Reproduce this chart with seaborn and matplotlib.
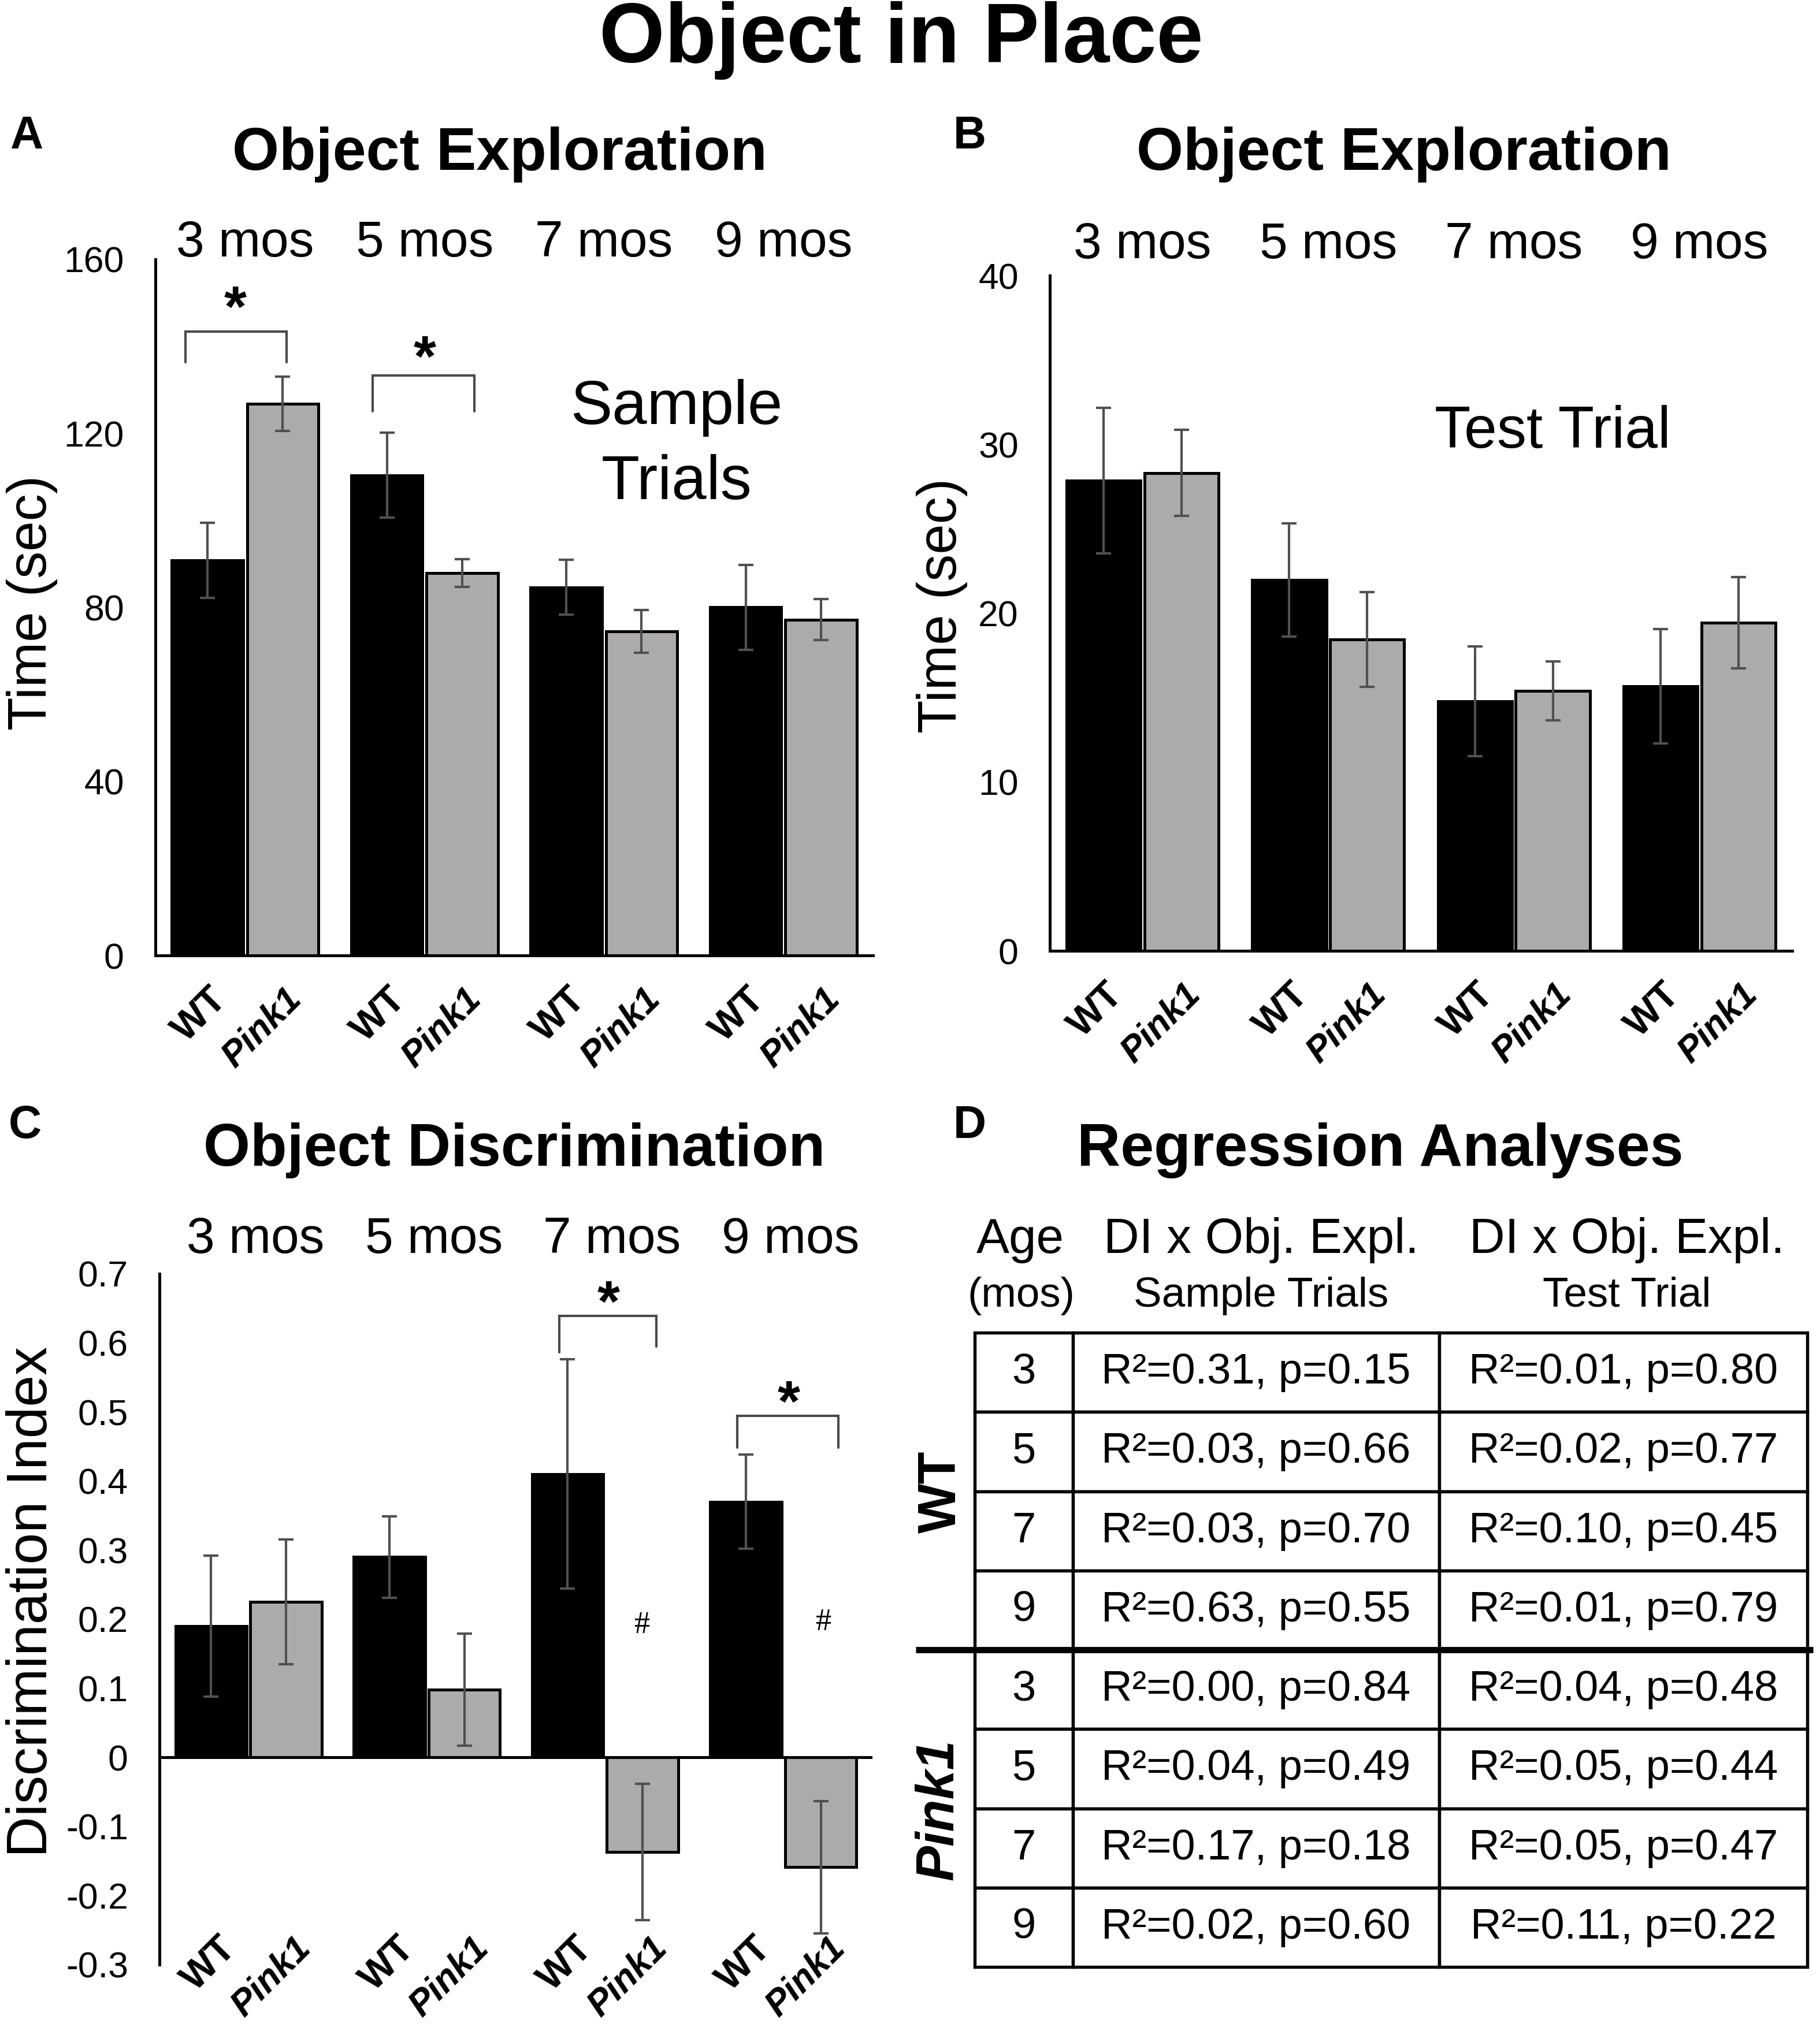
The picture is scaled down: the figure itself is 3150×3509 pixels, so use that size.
import numpy as np
import pandas as pd
import matplotlib
matplotlib.use('Agg')
import matplotlib.pyplot as plt
import matplotlib.transforms as mtransforms
import seaborn as sns

# ---------------- data ----------------
ages = ['3 mos', '5 mos', '7 mos', '9 mos']
genotypes = ['WT', 'Pink1']

# Panel A: sample trials object exploration (sec)
a_wt = [90.8, 110.4, 84.6, 80.0]
a_wt_err = [8.6, 9.8, 6.3, 9.7]
a_pk = [126.8, 87.9, 74.5, 77.2]
a_pk_err = [6.3, 3.2, 4.9, 4.7]
a_yticks = [0, 40, 80, 120, 160]

# Panel B: test trial object exploration (sec)
b_wt = [27.85, 21.96, 14.78, 15.67]
b_wt_err = [4.3, 3.35, 3.24, 3.4]
b_pk = [28.3, 18.44, 15.4, 19.44]
b_pk_err = [2.55, 2.8, 1.74, 2.7]
b_yticks = [0, 10, 20, 30, 40]

# Panel C: discrimination index
c_wt = [0.19, 0.29, 0.41, 0.37]
c_wt_err = [0.102, 0.059, 0.166, 0.068]
c_pk = [0.225, 0.098, -0.137, -0.159]
c_pk_err = [0.09, 0.081, 0.099, 0.096]
c_yticks = [-0.3, -0.2, -0.1, 0, 0.1, 0.2, 0.3, 0.4, 0.5, 0.6, 0.7]
c_yticklabels = ['-0.3', '-0.2', '-0.1', '0', '0.1', '0.2', '0.3', '0.4', '0.5', '0.6', '0.7']

# Panel D: regression table
tbl_ages = ['3', '5', '7', '9']
wt_r2_sample = [0.31, 0.03, 0.03, 0.63]
wt_p_sample = [0.15, 0.66, 0.70, 0.55]
wt_r2_test = [0.01, 0.02, 0.10, 0.01]
wt_p_test = [0.80, 0.77, 0.45, 0.79]
pk_r2_sample = [0.00, 0.04, 0.17, 0.02]
pk_p_sample = [0.84, 0.49, 0.18, 0.60]
pk_r2_test = [0.04, 0.05, 0.05, 0.11]
pk_p_test = [0.48, 0.44, 0.47, 0.22]

# ---------------- style ----------------
sns.set_theme(style='white')
plt.rcParams['font.family'] = ['Liberation Sans', 'DejaVu Sans']
plt.rcParams['axes.linewidth'] = 1.2

GREY = '#aeaaa9'
ERRC = '#505050'
BRC = '#4a4a4a'

W, H = 3150, 3509
fig = plt.figure(figsize=(W / 300, H / 300), dpi=300)
fig.patch.set_facecolor('white')


def fx(x):
    return x / W


def fy(y):
    return 1 - y / H


def bar_panel(ax, wt, wt_err, pk, pk_err, xpad, shift_px):
    df = pd.DataFrame({
        'age': ages + ages,
        'genotype': ['WT'] * 4 + ['Pink1'] * 4,
        'value': wt + pk,
    })
    sns.barplot(data=df, x='age', y='value', hue='genotype', order=ages,
                hue_order=genotypes, palette={'WT': '#000000', 'Pink1': GREY},
                width=0.84, gap=0.05, edgecolor='black', linewidth=1.2,
                errorbar=None, legend=False, ax=ax, zorder=2)
    bars = sorted(ax.patches, key=lambda b: b.get_x())
    xs = [b.get_x() + b.get_width() / 2 for b in bars]
    hs = [b.get_height() for b in bars]
    errs = []
    for i in range(4):
        errs += [wt_err[i], pk_err[i]]
    ax.errorbar(xs, hs, yerr=errs, fmt='none', ecolor=ERRC, elinewidth=1.0,
                capsize=3.2, capthick=1.0, zorder=5)
    ax.set_xticks(xs, ['WT', 'Pink1'] * 4)
    ax.set_xlabel('')
    ax.set_xlim(-0.5, 3.5)
    ax.tick_params(axis='x', length=0, pad=xpad)
    ax.tick_params(axis='y', length=0, pad=13, labelsize=15, colors='black')
    offset = mtransforms.ScaledTranslation(shift_px / 300, 0, fig.dpi_scale_trans)
    for lab in ax.get_xticklabels():
        lab.set_rotation(45)
        lab.set_ha('right')
        lab.set_va('center')
        lab.set_rotation_mode('anchor')
        lab.set_fontweight('bold')
        lab.set_color('black')
        if lab.get_text() == 'Pink1':
            lab.set_fontstyle('italic')
            lab.set_fontsize(15)
        else:
            lab.set_fontsize(16)
        lab.set_transform(lab.get_transform() + offset)
    sns.despine(ax=ax)
    for s in ['left', 'bottom']:
        ax.spines[s].set_color('black')
        ax.spines[s].set_linewidth(1.2)


def bracket(ax, x1, x2, ytop, yb1, yb2):
    ax.plot([x1, x1, x2, x2], [yb1, ytop, ytop, yb2], color=BRC, lw=1.0,
            solid_joinstyle='miter', zorder=6)


def star(ax, x, y):
    ax.text(x, y, '*', ha='center', va='baseline', fontsize=24,
            fontweight='bold', color='black')


def age_labels(ax, yfrac, dx=0.0):
    tr = ax.get_xaxis_transform()
    for i, a in enumerate(ages):
        ax.text(i + dx, yfrac, a, transform=tr, ha='center', va='baseline',
                fontsize=21, color='black', clip_on=False)


def set_ylab(ax, text, xf, yf, size):
    ax.set_ylabel(text, fontsize=size, color='black')
    ax.yaxis.set_label_coords(xf, yf)
    ax.yaxis.label.set_va('center')


# ---------------- Panel A ----------------
axA = fig.add_axes([fx(269), fy(1654), 1242 / W, 1205 / H])
bar_panel(axA, a_wt, a_wt_err, a_pk, a_pk_err, xpad=16, shift_px=24)
axA.set_ylim(0, 160)
axA.set_yticks(a_yticks, [str(t) for t in a_yticks])
set_ylab(axA, 'Time (sec)', -0.172, 0.507, 22.6)
age_labels(axA, 1.004)
axA.text(2.405, 122.2, 'Sample', ha='center', va='baseline', fontsize=26, color='black')
axA.text(2.405, 104.9, 'Trials', ha='center', va='baseline', fontsize=26, color='black')
bracket(axA, -0.334, 0.232, 143.4, 136.4, 136.4)
star(axA, -0.055, 144.6)
bracket(axA, 0.71, 1.277, 133.3, 125.1, 125.1)
star(axA, 1.0, 133.2)

# ---------------- Panel B ----------------
axB = fig.add_axes([fx(1817), fy(1646), 1285 / W, 1169 / H])
bar_panel(axB, b_wt, b_wt_err, b_pk, b_pk_err, xpad=16, shift_px=24)
axB.set_ylim(0, 40)
axB.set_yticks(b_yticks, [str(t) for t in b_yticks])
set_ylab(axB, 'Time (sec)', -0.1455, 0.511, 22.6)
age_labels(axB, 1.0257)
axB.text(2.21, 29.8, 'Test Trial', ha='center', va='baseline', fontsize=24.5, color='black')

# ---------------- Panel C ----------------
axC = fig.add_axes([fx(276), fy(3401), 1234 / W, 1196 / H])
bar_panel(axC, c_wt, c_wt_err, c_pk, c_pk_err, xpad=-9, shift_px=34)
axC.set_ylim(-0.3, 0.7)
axC.set_yticks(c_yticks, c_yticklabels)
axC.spines['bottom'].set_visible(False)
axC.axhline(0, color='black', lw=1.2, zorder=3)
set_ylab(axC, 'Discrimination Index', -0.179, 0.525, 23.6)
age_labels(axC, 1.030, dx=0.04)
bracket(axC, 1.744, 2.288, 0.639, 0.586, 0.595)
star(axC, 2.02, 0.632)
bracket(axC, 2.74, 3.31, 0.494, 0.448, 0.448)
star(axC, 3.03, 0.487)
for xh, yh in [(2.207, 0.191), (3.227, 0.195)]:
    axC.text(xh, yh, '#', ha='center', va='center', fontsize=13,
             family=['Liberation Serif', 'DejaVu Serif'], color='black')

# ---------------- Panel D (table) ----------------
axD = fig.add_axes([0.5, 0, 0.5, 1609 / H])
axD.set_xlim(1575, 3150)
axD.set_ylim(3509, 1900)
axD.axis('off')

rows = []
for i in range(4):
    rows.append([tbl_ages[i],
                 f'R²={wt_r2_sample[i]:.2f}, p={wt_p_sample[i]:.2f}',
                 f'R²={wt_r2_test[i]:.2f}, p={wt_p_test[i]:.2f}'])
for i in range(4):
    rows.append([tbl_ages[i],
                 f'R²={pk_r2_sample[i]:.2f}, p={pk_p_sample[i]:.2f}',
                 f'R²={pk_r2_test[i]:.2f}, p={pk_p_test[i]:.2f}'])

tl, tr_, tt, tb = 1687, 3128, 2307, 3405
bbox = [(tl - 1575) / 1575, (3509 - tb) / 1609, (tr_ - tl) / 1575, (tb - tt) / 1609]
tbl = axD.table(cellText=rows, colWidths=[170 / 1441, 634 / 1441, 637 / 1441],
                cellLoc='center', bbox=bbox)
tbl.auto_set_font_size(False)
tbl.set_fontsize(17.8)
for (r, c), cell in tbl.get_celld().items():
    cell.set_linewidth(1.3)
    cell.set_edgecolor('black')
    cell.get_text().set_fontsize(17.8)
    cell.get_text().set_color('black')

axD.plot([1585, 3138], [2856, 2856], color='black', lw=2.6, solid_capstyle='butt')

axD.text(1766, 2169, 'Age', ha='center', va='baseline', fontsize=20.5, color='black')
axD.text(1767, 2262, '(mos)', ha='center', va='baseline', fontsize=17.5, color='black')
axD.text(2183, 2169, 'DI x Obj. Expl.', ha='center', va='baseline', fontsize=20.5, color='black')
axD.text(2183, 2262, 'Sample Trials', ha='center', va='baseline', fontsize=17.5, color='black')
axD.text(2816, 2169, 'DI x Obj. Expl.', ha='center', va='baseline', fontsize=20.5, color='black')
axD.text(2816, 2262, 'Test Trial', ha='center', va='baseline', fontsize=17.5, color='black')
axD.text(1630, 2583, 'WT', ha='center', va='center', rotation=90, fontsize=22,
         fontweight='bold', color='black')
axD.text(1625, 3133, 'Pink1', ha='center', va='center', rotation=90, fontsize=22,
         fontweight='bold', fontstyle='italic', color='black')

# ---------------- titles and panel letters ----------------
fig.text(fx(1560), fy(108), 'Object in Place', ha='center', va='baseline',
         fontsize=35, fontweight='bold', color='black')
fig.text(fx(865), fy(294), 'Object Exploration', ha='center', va='baseline',
         fontsize=25, fontweight='bold', color='black')
fig.text(fx(2430), fy(294), 'Object Exploration', ha='center', va='baseline',
         fontsize=25, fontweight='bold', color='black')
fig.text(fx(890), fy(2018), 'Object Discrimination', ha='center', va='baseline',
         fontsize=25, fontweight='bold', color='black')
fig.text(fx(2389), fy(2018), 'Regression Analyses', ha='center', va='baseline',
         fontsize=25, fontweight='bold', color='black')
for letter, xl, yl in [('A', 17, 257), ('B', 1650, 257), ('C', 15, 1970), ('D', 1650, 1970)]:
    fig.text(fx(xl), fy(yl), letter, ha='left', va='baseline', fontsize=19,
             fontweight='bold', color='black')

fig.savefig('out.png', dpi=300, facecolor='white')
